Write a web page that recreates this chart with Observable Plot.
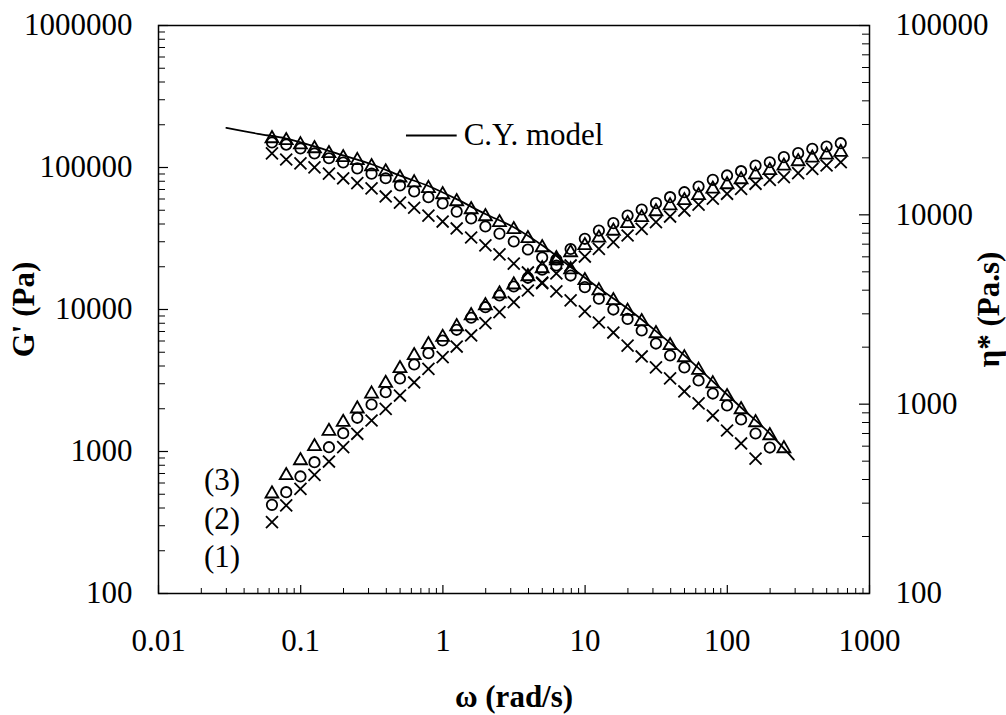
<!DOCTYPE html>
<html><head><meta charset="utf-8">
<script src="https://cdn.jsdelivr.net/npm/d3@7"></script>
<script src="https://cdn.jsdelivr.net/npm/@observablehq/plot@0.6"></script>
<style>body{margin:0;background:#fff} svg{display:block}</style>
</head><body><div id="chart"></div>
<script>
// angular frequency (rad/s)
const omega = [0.0628,0.0791,0.0996,0.125,0.158,0.199,0.250,0.315,0.396,0.499,
  0.628,0.791,0.996,1.25,1.58,1.99,2.50,3.15,3.96,4.99,
  6.28,7.91,9.96,12.5,15.8,19.9,25.0,31.5,39.6,49.9,
  62.8,79.1,99.6,125,158,199,250,315,396,499,628];
// G' (Pa), samples (1) x, (2) o, (3) triangle
const gpCross = [318,417,546,685,850,1072,1333,1653,1999,2479,3062,3822,4616,5487,6561,8011,9573,11250,13610,15310,17930,20420,23610,26740,29790,33200,37000,41200,45160,49780,54850,60250,65300,70800,76800,81900,85500,91200,97900,103300,108900];
const gpCircle = [421,517,667,841,1072,1346,1727,2143,2616,3266,4100,4925,6050,7195,8745,10380,12560,14520,16720,19050,22490,26680,31480,35970,40550,45920,50600,56100,61800,67000,73500,81900,87900,94200,103300,108900,118300,126200,135500,140600,148300];
const gpTriangle = [504,678,864,1085,1390,1608,2000,2549,3027,3843,4745,5670,6383,7590,9070,10670,12910,14930,17070,19440,22130,25190,28240,31900,35710,40360,44460,48980,53950,58590,63530,70600,75860,82300,89200,95300,102500,110200,116700,122500,128200];
// eta* (Pa.s)
const etaCross = [21100,19600,18700,17800,16500,15600,14700,13800,12500,11600,10900,9910,9220,8470,7590,6890,6180,5530,4960,4390,3940,3530,3090,2700,2390,2040,1786,1563,1367,1167,1009,871,726,620,516];
const etaCircle = [24100,23500,22400,21100,19900,18900,17600,16500,15600,14300,13300,12400,11500,10400,9570,8680,7960,7230,6560,5950,5400,4780,4150,3610,3160,2820,2450,2090,1807,1563,1334,1138,984,830,700,590];
const etaTriangle = [25300,24700,23500,22400,21100,20100,19400,18000,16900,15700,14800,13800,12800,11760,10670,9800,9120,8370,7500,6720,5880,5140,4500,3980,3530,3100,2735,2361,2042,1763,1514,1285,1099,937,800,683,583];
// Cross-Williamson (C.Y.) model curve
const cyOmega = [0.03,0.05,0.0791,0.125,0.199,0.315,0.499,0.791,1.25,1.99,3.15,4.99,7.91,12.5,19.9,31.5,49.9,79.1,125,199,294];
const cyEta = [28800,26800,25300,23000,20600,18500,16100,14200,12100,10100,8600,6900,5300,4100,3200,2430,1810,1320,960,700,510];
// axes
const xTicks = [0.01,0.1,1,10,100,1000];
const gTicks = [100,1000,10000,100000,1000000];
const etaTicks = [100,1000,10000,100000];
const seriesLabels = ["(3)","(2)","(1)"];
const seriesLabelG = [625,336,180];
const seriesLabelOmega = 0.028;
const legendText = "C.Y. model";
const legendOmega = [0.55,1.25,1.4];
const legendG = 168000;

const W = 1006, H = 715, ML = 158, MR = 137, MT = 25, MB = 122;
const FW = W - ML - MR, FH = H - MT - MB;
const FONT = "'Liberation Serif','Times New Roman',serif";
const FS = 31;

// eta* axis (100..1e5) shares the frame with G' axis (100..1e6)
const etaToG = e => Math.pow(10, 2 + (Math.log10(e) - 2) * 4 / 3);
const minors = majors => majors.slice(0, -1).flatMap(m => [2,3,4,5,6,7,8,9].map(k => m * k));

const rows = (ys, map = d => d) => ys.map((v, i) => ({w: omega[i], v: map(v)}));
const cy = cyOmega.map((w, i) => ({w, v: etaToG(cyEta[i])}));

const sym = (data, symbol, r) => Plot.dot(data, {x: "w", y: "v", symbol, r, fill: "none", stroke: "black", strokeWidth: 1.8});

const chart = Plot.plot({
  width: W, height: H, marginLeft: ML, marginRight: MR, marginTop: MT, marginBottom: MB,
  style: {fontFamily: FONT, background: "white", color: "black"},
  x: {type: "log", domain: [0.01, 1000], axis: null},
  y: {type: "log", domain: [100, 1000000], axis: null},
  marks: [
    Plot.frame({stroke: "black", strokeWidth: 1.5}),
    // left ticks (inward)
    Plot.tickY(gTicks, {y: d => d, insetRight: FW - 10, stroke: "black", strokeWidth: 1.2}),
    Plot.tickY(minors(gTicks), {y: d => d, insetRight: FW - 7, stroke: "black", strokeWidth: 1}),
    // right ticks (inward)
    Plot.tickY(etaTicks, {y: etaToG, insetLeft: FW - 10, stroke: "black", strokeWidth: 1.2}),
    Plot.tickY(minors(etaTicks), {y: etaToG, insetLeft: FW - 7, stroke: "black", strokeWidth: 1}),
    // bottom ticks (inward)
    Plot.tickX(xTicks, {x: d => d, insetTop: FH - 8, stroke: "black", strokeWidth: 1.2}),
    Plot.tickX(minors(xTicks), {x: d => d, insetTop: FH - 5, stroke: "black", strokeWidth: 1}),
    // tick labels
    Plot.text(gTicks, {y: d => d, frameAnchor: "left", dx: -26, textAnchor: "end", lineAnchor: "middle", text: d => String(d), fontSize: FS, fill: "black"}),
    Plot.text(etaTicks, {y: etaToG, frameAnchor: "right", dx: 26, textAnchor: "start", lineAnchor: "middle", text: d => String(d), fontSize: FS, fill: "black"}),
    Plot.text(xTicks, {x: d => d, frameAnchor: "bottom", dy: 48, textAnchor: "middle", lineAnchor: "middle", text: d => String(d), fontSize: FS, fill: "black"}),
    // axis titles
    Plot.text(["ω (rad/s)"], {frameAnchor: "bottom", dy: 104, textAnchor: "middle", lineAnchor: "middle", fontSize: FS, fontWeight: "bold", fill: "black"}),
    Plot.text(["G' (Pa)"], {frameAnchor: "left", dx: -134, rotate: -90, textAnchor: "middle", lineAnchor: "middle", fontSize: FS, fontWeight: "bold", fill: "black"}),
    Plot.text(["η* (Pa.s)"], {frameAnchor: "right", dx: 120, rotate: -90, textAnchor: "middle", lineAnchor: "middle", fontSize: FS, fontWeight: "bold", fill: "black"}),
    // model curve
    Plot.line(cy, {x: "w", y: "v", stroke: "black", strokeWidth: 1.8, curve: "monotone-x"}),
    // G' data
    sym(rows(gpCross), "times", 5.5),
    sym(rows(gpCircle), "circle", 5.2),
    sym(rows(gpTriangle), "triangle", 4.8),
    // eta* data
    sym(rows(etaCross, etaToG), "times", 5.5),
    sym(rows(etaCircle, etaToG), "circle", 5.2),
    sym(rows(etaTriangle, etaToG), "triangle", 4.8),
    // legend
    Plot.link([legendG], {x1: () => legendOmega[0], x2: () => legendOmega[1], y1: d => d, y2: d => d, stroke: "black", strokeWidth: 1.8}),
    Plot.text([legendText], {x: () => legendOmega[2], y: () => legendG, textAnchor: "start", lineAnchor: "middle", fontSize: FS, fill: "black"}),
    Plot.text(seriesLabels, {x: () => seriesLabelOmega, y: (d, i) => seriesLabelG[i], textAnchor: "middle", lineAnchor: "middle", fontSize: FS, fill: "black"})
  ]
});
document.getElementById("chart").appendChild(chart);
</script>
</body></html>
